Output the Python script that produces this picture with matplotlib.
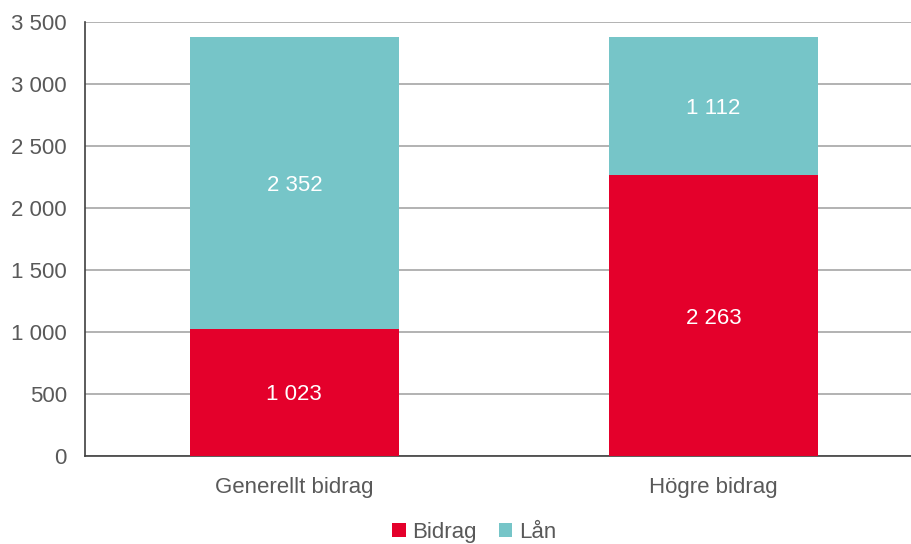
import matplotlib.pyplot as plt
import numpy as np

plt.rcParams['font.family'] = ['Liberation Sans', 'DejaVu Sans']

# Data
categories = ["Generellt bidrag", "Högre bidrag"]
bidrag = [1023, 2263]
lan = [2352, 1112]
series_names = ["Bidrag", "Lån"]
colors = ["#E4002B", "#76C5C8"]
yticks = [0, 500, 1000, 1500, 2000, 2500, 3000, 3500]


def fmt(v):
    return f"{v:,}".replace(",", " ")


fig = plt.figure(figsize=(9.12, 5.44), dpi=100)
ax = fig.add_axes([0.093, 0.162, 0.919, 0.798])

x = np.arange(len(categories))
ax.bar(x, bidrag, width=0.5, color=colors[0], label=series_names[0], zorder=3)
ax.bar(x, lan, width=0.5, bottom=bidrag, color=colors[1], label=series_names[1], zorder=3)

# Värden i staplarna
for i in range(len(categories)):
    ax.text(x[i], bidrag[i] / 2, fmt(bidrag[i]), ha="center", va="center_baseline",
            color="white", fontsize=16, zorder=4)
    ax.text(x[i], bidrag[i] + lan[i] / 2, fmt(lan[i]), ha="center", va="center_baseline",
            color="white", fontsize=16, zorder=4)

ax.set_xlim(-0.5, 1.5)
ax.set_ylim(0, 3500)
ax.set_yticks(yticks)
ax.set_yticklabels([fmt(v) for v in yticks])
ax.set_xticks(x)
ax.set_xticklabels(categories)
ax.tick_params(axis="both", length=0, labelsize=16, colors="#595959")
ax.tick_params(axis="y", pad=13)
ax.tick_params(axis="x", pad=15)
ax.grid(axis="y", color="#A6A6A6", linewidth=1.2, zorder=0)

for s in ["top", "right"]:
    ax.spines[s].set_visible(False)
ax.spines["left"].set_color("#404040")
ax.spines["bottom"].set_color("#404040")
ax.spines["left"].set_linewidth(1.2)
ax.spines["bottom"].set_linewidth(1.2)

fig.legend(loc="lower center", bbox_to_anchor=(0.52, -0.035), ncol=2, frameon=False,
           fontsize=16, handlelength=0.6, handleheight=0.6, handletextpad=0.3,
           columnspacing=1.0, labelcolor="#595959")

plt.savefig("out.png", dpi=100)
